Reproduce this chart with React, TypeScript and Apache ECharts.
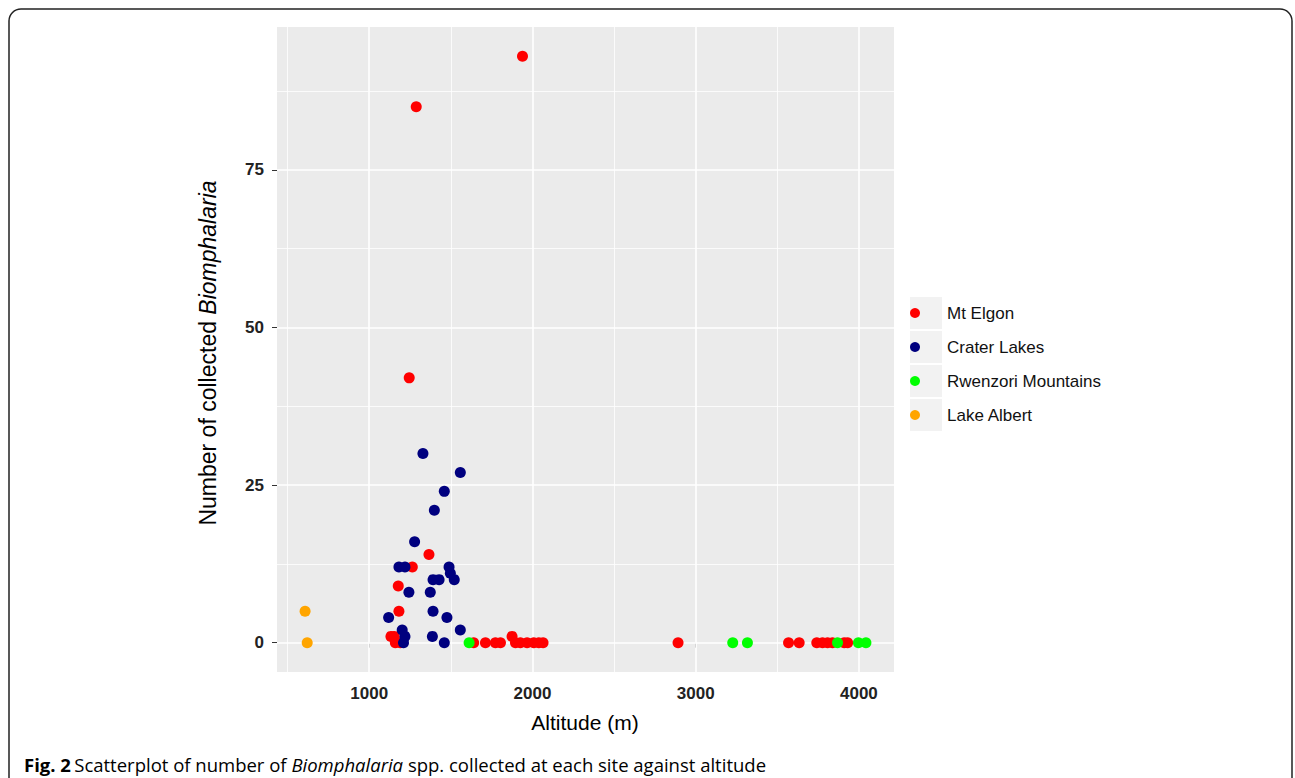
import React, { useEffect, useRef } from "react";
import * as echarts from "echarts";

const seriesNames = ["Mt Elgon", "Crater Lakes", "Rwenzori Mountains", "Lake Albert"];
const seriesColors = ["#FF0000", "#00007F", "#00FF00", "#FFA500"];

// [altitude (m), number collected]
const mtElgon: number[][] = [
  [1288, 85], [1939, 93], [1245, 42], [1366, 14], [1264, 12], [1178, 9], [1182, 5],
  [1133, 1], [1153, 1], [1160, 0], [1190, 0], [1640, 0], [1712, 0], [1773, 0], [1804, 0],
  [1875, 1], [1896, 0], [1926, 0], [1967, 0], [2008, 0], [2039, 0], [2065, 0], [2892, 0],
  [3569, 0], [3634, 0], [3742, 0], [3777, 0], [3808, 0], [3838, 0], [3910, 0], [3931, 0],
];
const craterLakes: number[][] = [
  [1329, 30], [1558, 27], [1460, 24], [1399, 21], [1278, 16], [1182, 12], [1219, 12],
  [1489, 12], [1497, 11], [1521, 10], [1391, 10], [1428, 10], [1243, 8], [1374, 8],
  [1391, 5], [1119, 4], [1476, 4], [1558, 2], [1202, 2], [1387, 1], [1219, 1], [1210, 0],
  [1460, 0],
];
const rwenzori: number[][] = [[1612, 0], [3227, 0], [3317, 0], [3869, 0], [3997, 0], [4043, 0]];
const lakeAlbert: number[][] = [[607, 5], [620, 0]];

const xTicks = [1000, 2000, 3000, 4000];
const xMinorGrid = [500, 1500, 2500, 3500];
const yTicks = [0, 25, 50, 75];
const yMinorGrid = [12.5, 37.5, 62.5, 87.5];

const X_MIN = 435;
const X_MAX = 4215;
const Y_MIN = -4.65;
const Y_MAX = 97.65;

const FONT = "Liberation Sans";

export default function App() {
  const ref = useRef<HTMLDivElement>(null);
  useEffect(() => {
    document.body.style.margin = "0";
    const chart = echarts.init(ref.current!, undefined, { renderer: "svg" });
    const allData = [mtElgon, craterLakes, rwenzori, lakeAlbert];

    const gridLines = (vals: number[], axis: "xAxis" | "yAxis", width: number) =>
      vals.map((v) => ({ [axis]: v, lineStyle: { color: "#FFFFFF", width, type: "solid" } }));

    const legendTop = 296;
    const legendStep = 34;
    const keyRects = seriesNames.map((_, i) => ({
      type: "rect",
      shape: { x: 910, y: legendTop + i * legendStep + 1, width: 32, height: 32 },
      style: { fill: "#F2F2F2" },
      z: 0,
    }));

    chart.setOption({
      animation: false,
      textStyle: { fontFamily: FONT },
      grid: {
        left: 277,
        top: 27,
        width: 617,
        height: 645,
        show: true,
        backgroundColor: "#EBEBEB",
        borderWidth: 0,
        containLabel: false,
      },
      xAxis: {
        type: "value",
        min: X_MIN,
        max: X_MAX,
        axisLine: { show: false },
        splitLine: { show: false },
        axisTick: { show: true, customValues: xTicks, length: 5, lineStyle: { color: "#333333", width: 1 } },
        axisLabel: {
          customValues: xTicks,
          formatter: (v: number) => String(v),
          margin: 13,
          color: "#222222",
          fontSize: 17,
          fontWeight: "bold",
          fontFamily: FONT,
        },
      },
      yAxis: {
        type: "value",
        min: Y_MIN,
        max: Y_MAX,
        axisLine: { show: false },
        splitLine: { show: false },
        axisTick: { show: true, customValues: yTicks, length: 5, lineStyle: { color: "#333333", width: 1 } },
        axisLabel: {
          customValues: yTicks,
          formatter: (v: number) => String(v),
          margin: 13,
          color: "#222222",
          fontSize: 17,
          fontWeight: "bold",
          fontFamily: FONT,
        },
      },
      legend: {
        data: seriesNames,
        orient: "vertical",
        left: 910,
        top: legendTop,
        itemWidth: 32,
        itemHeight: 10,
        itemGap: 0,
        icon: "circle",
        symbolKeepAspect: true,
        padding: 0,
        textStyle: {
          fontSize: 17,
          color: "#111111",
          fontFamily: FONT,
          lineHeight: 34,
          padding: [0, 0, 0, 11],
        },
        selectedMode: false,
      },
      graphic: [
        ...keyRects,
        {
          type: "rect",
          shape: { x: 9, y: 9, width: 1283, height: 820, r: 12 },
          style: { fill: "none", stroke: "#222222", lineWidth: 1.5 },
          silent: true,
        },
        {
          type: "text",
          x: 585,
          y: 722,
          style: {
            text: "Altitude (m)",
            fontSize: 21,
            fontFamily: FONT,
            fill: "#000000",
            align: "center",
            verticalAlign: "middle",
          },
        },
        {
          type: "text",
          x: 208,
          y: 353,
          rotation: Math.PI / 2,
          style: {
            text: "{n|Number of collected }{i|Biomphalaria}",
            align: "center",
            verticalAlign: "middle",
            rich: {
              n: { fontSize: 23, fontFamily: FONT, color: "#000000" },
              i: { fontSize: 23, fontFamily: FONT, fontStyle: "italic", color: "#000000" },
            },
          },
        },
        {
          type: "text",
          x: 24,
          y: 764,
          style: {
            text: "{b|Fig. 2} {n|Scatterplot of number of }{i|Biomphalaria}{n| spp. collected at each site against altitude}",
            verticalAlign: "middle",
            align: "left",
            rich: {
              b: { fontSize: 18.5, fontFamily: "Open Sans", fontWeight: "bold", color: "#111111" },
              n: { fontSize: 18.5, fontFamily: "Open Sans", color: "#111111" },
              i: { fontSize: 18.5, fontFamily: "Open Sans", fontStyle: "italic", color: "#111111" },
            },
          },
        },
      ],
      series: [
        {
          type: "scatter",
          data: [],
          silent: true,
          z: 1,
          markLine: {
            silent: true,
            z: 1,
            symbol: ["none", "none"],
            label: { show: false },
            emphasis: { disabled: true },
            data: [
              ...gridLines(xMinorGrid, "xAxis", 0.8),
              ...gridLines(yMinorGrid, "yAxis", 0.8),
              ...gridLines(xTicks, "xAxis", 1.6),
              ...gridLines(yTicks, "yAxis", 1.6),
            ],
          },
        },
        ...seriesNames.map((name, i) => ({
          name,
          type: "scatter",
          data: allData[i],
          symbol: "circle",
          symbolSize: 11,
          z: 3 + i,
          itemStyle: { color: seriesColors[i], opacity: 1 },
          emphasis: { disabled: true },
        })),
      ],
    });
    return () => chart.dispose();
  }, []);
  return <div ref={ref} style={{ width: 1295, height: 778 }} />;
}
